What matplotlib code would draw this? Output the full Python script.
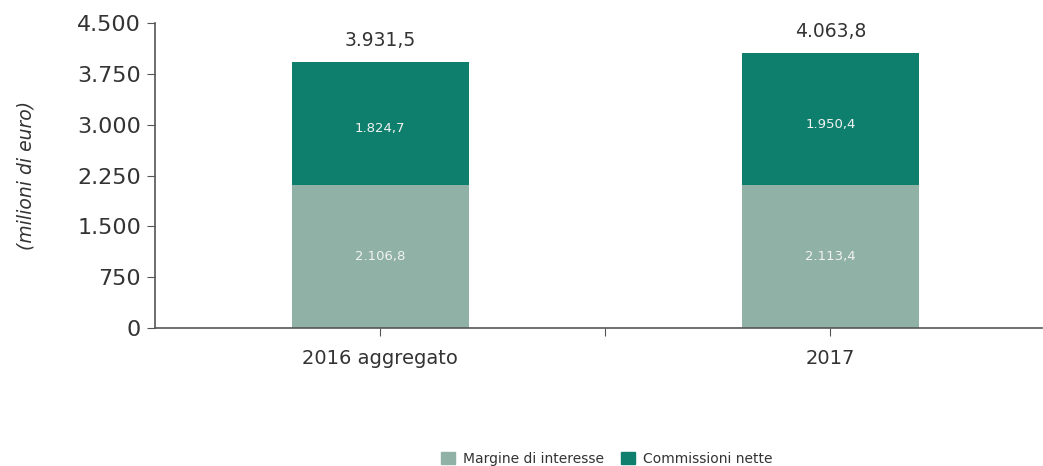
import matplotlib
matplotlib.use("Agg")
import matplotlib.pyplot as plt
from matplotlib.patches import Patch
from matplotlib.ticker import FuncFormatter

categories = ["2016 aggregato", "2017"]
margine = [2106.8, 2113.4]
commissioni = [1824.7, 1950.4]
totals = [3931.5, 4063.8]
yticks = [0, 750, 1500, 2250, 3000, 3750, 4500]

c_light = "#8fb1a6"
c_dark = "#0e7f6c"
txt = "#333333"
axc = "#555555"

plt.rcParams['font.family'] = ['DejaVu Sans']


def it_fmt(v, dec=1):
    s = f"{v:,.{dec}f}"
    return s.replace(",", "X").replace(".", ",").replace("X", ".")


fig = plt.figure(figsize=(10.43, 4.66), dpi=100)
ax = fig.add_axes([155/1043, 1-328/466, (1042-155)/1043, (328-23)/466])

x = list(range(len(categories)))
w = 0.393
ax.bar(x, margine, width=w, color=c_light, zorder=2)
ax.bar(x, commissioni, width=w, bottom=margine, color=c_dark, zorder=2)

for i in x:
    ax.text(i, margine[i]/2, it_fmt(margine[i]), ha='center', va='center',
            color='#f2f2f2', fontsize=9.5)
    ax.annotate(it_fmt(commissioni[i]), (i, margine[i] + commissioni[i]/2),
                xytext=(0, -4), textcoords='offset points', ha='center',
                va='center', color='#f2f2f2', fontsize=9.5)
    ax.annotate(it_fmt(totals[i]), (i, totals[i]), xytext=(0, 8),
                textcoords='offset points', ha='center', va='bottom',
                color=txt, fontsize=13.5)

ax.set_xlim(-0.5, 1.47)
ax.set_ylim(0, 4500)
ax.set_yticks(yticks)
ax.yaxis.set_major_formatter(FuncFormatter(lambda v, p: it_fmt(v, 0)))
ax.set_xticks([0, 0.5, 1])
ax.set_xticklabels([categories[0], "", categories[1]])

for s in ['top', 'right']:
    ax.spines[s].set_visible(False)
for s in ['left', 'bottom']:
    ax.spines[s].set_color(axc)
    ax.spines[s].set_linewidth(1.2)
ax.tick_params(axis='y', length=6, color=axc, labelsize=16, labelcolor=txt, pad=4)
ax.tick_params(axis='x', length=6, color=axc, labelsize=14, labelcolor=txt, pad=9)

ax.set_ylabel("(milioni di euro)", fontsize=13.5, fontstyle='italic', color=txt, labelpad=30)

handles = [Patch(color=c_light, label="Margine di interesse"),
           Patch(color=c_dark, label="Commissioni nette")]
fig.legend(handles=handles, loc='center', bbox_to_anchor=(607/1043, 1-459/466),
           ncol=2, frameon=False, fontsize=10, handlelength=1.0, handleheight=1.0,
           handletextpad=0.6, columnspacing=1.2, labelcolor=txt)

fig.savefig("out.png", dpi=100)
